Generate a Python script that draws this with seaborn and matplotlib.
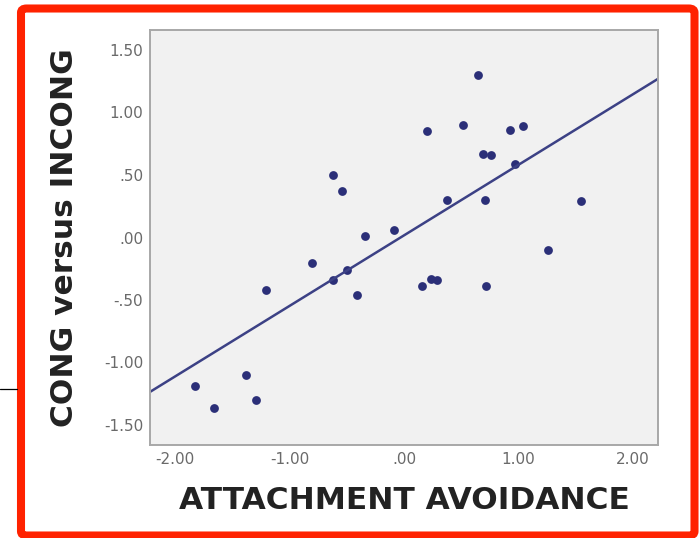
import numpy as np
import pandas as pd
import matplotlib
matplotlib.use('Agg')
import matplotlib.pyplot as plt
import seaborn as sns
from matplotlib.patches import FancyBboxPatch
from matplotlib.lines import Line2D

# attachment avoidance (x) vs CONG-INCONG difference (y)
avoidance = [-1.83, -1.66, -1.38, -1.29, -1.21, -0.80, -0.62, -0.54, -0.62, -0.50,
             -0.41, -0.34, -0.09, 0.16, 0.24, 0.29, 0.20, 0.38, 0.52, 0.65,
             0.69, 0.76, 0.71, 0.72, 0.93, 1.04, 0.97, 1.26, 1.55]
cong_incong = [-1.19, -1.36, -1.10, -1.30, -0.42, -0.20, 0.50, 0.37, -0.34, -0.26,
               -0.46, 0.01, 0.06, -0.39, -0.33, -0.34, 0.85, 0.30, 0.90, 1.30,
               0.67, 0.66, 0.30, -0.39, 0.86, 0.89, 0.59, -0.10, 0.29]

x_ticks = [-2.0, -1.0, 0.0, 1.0, 2.0]
x_ticklabels = ['-2.00', '-1.00', '.00', '1.00', '2.00']
y_ticks = [1.5, 1.0, 0.5, 0.0, -0.5, -1.0, -1.5]
y_ticklabels = ['1.50', '1.00', '.50', '.00', '-.50', '-1.00', '-1.50']

df = pd.DataFrame({'avoid': avoidance, 'cong': cong_incong})

sns.set_style('white')
plt.rcParams['font.family'] = ['DejaVu Sans']

fig = plt.figure(figsize=(7.0, 5.38), dpi=100)
W, H = 700, 538
ax = fig.add_axes([150 / W, 1 - 445 / H, 508 / W, 415 / H])
ax.set_facecolor('#f1f1f1')
ax.set_xlim(-2.22, 2.22)
ax.set_ylim(-1.66, 1.66)

navy = '#2b2f78'
sns.regplot(data=df, x='avoid', y='cong', ax=ax, ci=None, truncate=False,
            scatter_kws={'s': 40, 'color': navy, 'linewidths': 0, 'alpha': 1},
            line_kws={'color': '#3c4185', 'lw': 1.8})
ax.set_xlim(-2.22, 2.22)
ax.set_ylim(-1.66, 1.66)

ax.set_xticks(x_ticks)
ax.set_xticklabels(x_ticklabels)
ax.set_yticks(y_ticks)
ax.set_yticklabels(y_ticklabels)
ax.tick_params(axis='both', length=3, width=1, color='#9a9a9a', labelcolor='#6a6a6a',
               labelsize=11, pad=2, direction='out')
for s in ax.spines.values():
    s.set_color('#a8a8a8')
    s.set_linewidth(1.4)

ax.set_xlabel('ATTACHMENT AVOIDANCE', fontsize=22.5, fontweight='bold', color='#222222')
ax.set_ylabel('CONG versus INCONG', fontsize=22.5, fontweight='bold', color='#222222')
ax.xaxis.set_label_coords(0.5, -0.099)
ax.yaxis.set_label_coords(-0.14, 0.5)

# red frame and the stray line at the left edge
frame = FancyBboxPatch((21 / W, 1 - 535.5 / H), 673.5 / W, 527 / H,
                       boxstyle='round,pad=0,rounding_size=0.008',
                       transform=fig.transFigure, fill=False,
                       edgecolor='#ff2200', linewidth=5.8)
fig.patches.append(frame)
fig.lines.append(Line2D([0, 17 / W], [1 - 389 / H, 1 - 389 / H],
                        transform=fig.transFigure, color='black', lw=0.9))

fig.savefig('out.png', dpi=100)
